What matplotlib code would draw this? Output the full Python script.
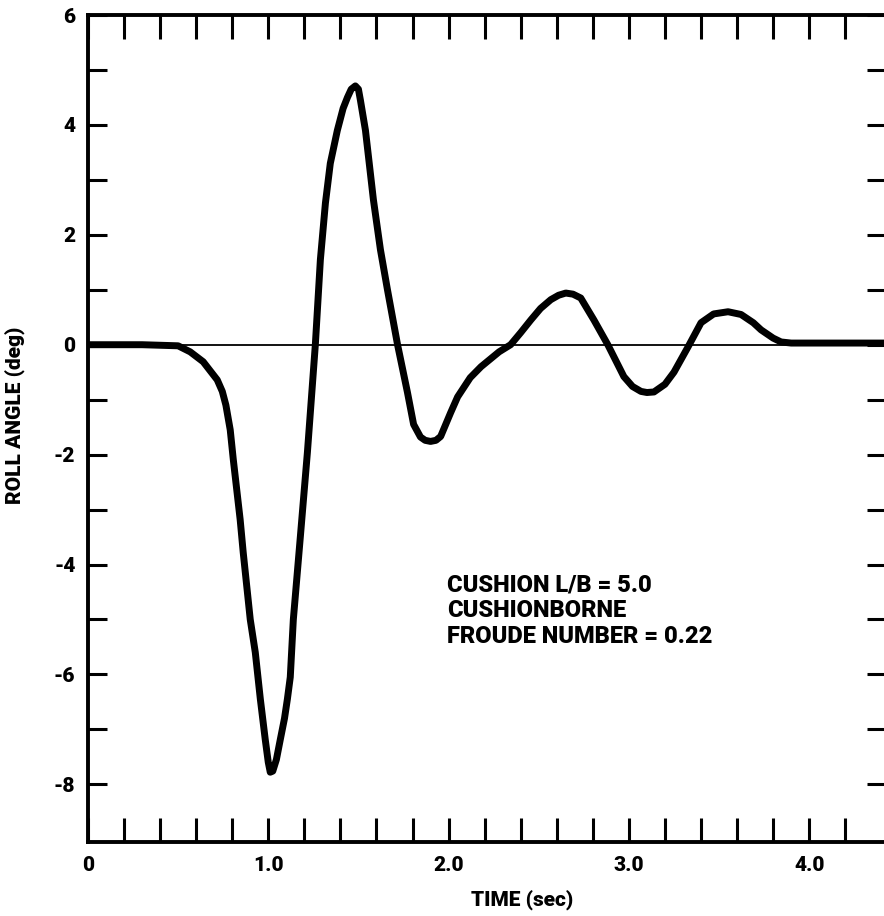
import matplotlib.pyplot as plt
import numpy as np

# ===== Data =====
time_s = [0.0, 0.3, 0.5, 0.567, 0.639, 0.717, 0.745, 0.765, 0.789, 0.806, 0.844,
          0.861, 0.9, 0.928, 0.956, 0.983, 1.0, 1.011, 1.025, 1.045, 1.067, 1.09,
          1.106, 1.122, 1.139, 1.178, 1.217, 1.244, 1.261, 1.289, 1.317, 1.344,
          1.383, 1.415, 1.439, 1.46, 1.483, 1.50, 1.511, 1.539, 1.56, 1.583,
          1.622, 1.661, 1.717, 1.772, 1.806, 1.844, 1.87, 1.9, 1.93, 1.956, 2.011,
          2.05, 2.12, 2.18, 2.28, 2.344, 2.40, 2.456, 2.51, 2.567, 2.61, 2.65,
          2.69, 2.733, 2.806, 2.883, 2.972, 3.02, 3.067, 3.1, 3.139, 3.2, 3.25,
          3.328, 3.4, 3.47, 3.55, 3.622, 3.69, 3.733, 3.8, 3.844, 3.9, 4.44]
roll_deg = [0.0, 0.0, -0.02, -0.13, -0.31, -0.64, -0.85, -1.1, -1.55, -2.09, -3.18,
            -3.78, -5.0, -5.6, -6.45, -7.18, -7.6, -7.78, -7.76, -7.55, -7.18, -6.8,
            -6.45, -6.05, -5.0, -3.49, -1.96, -0.76, 0.0, 1.55, 2.58, 3.3,
            3.9, 4.3, 4.5, 4.65, 4.71, 4.65, 4.45, 3.9, 3.3, 2.64,
            1.73, 1.0, 0.0, -0.87, -1.45, -1.68, -1.74, -1.76, -1.74, -1.67, -1.24,
            -0.95, -0.6, -0.4, -0.13, 0.0, 0.22, 0.45, 0.66, 0.82, 0.9, 0.94,
            0.92, 0.85, 0.45, 0.0, -0.58, -0.76, -0.85, -0.87, -0.86, -0.72, -0.5,
            -0.04, 0.4, 0.56, 0.6, 0.55, 0.4, 0.27, 0.12, 0.05, 0.03, 0.03]

x_ticks = np.arange(0, 4.21, 0.2)
x_labels = {0.0: "0", 1.0: "1.0", 2.0: "2.0", 3.0: "3.0", 4.0: "4.0"}
y_ticks = np.arange(-8, 7, 1)
note = "CUSHION L/B = 5.0\nCUSHIONBORNE\nFROUDE NUMBER = 0.22"

# ===== Figure =====
plt.rcParams['font.family'] = ['Roboto', 'DejaVu Sans']
plt.rcParams['font.weight'] = 'black'
plt.rcParams['axes.unicode_minus'] = False

fig = plt.figure(figsize=(8.84, 9.16), dpi=100)
ax = fig.add_axes([0.0995, 0.0808, 0.9030, 0.9028])

ax.plot(time_s, roll_deg, color='black', lw=5.0, solid_joinstyle='round',
        solid_capstyle='round')
ax.axhline(0, color='black', lw=1.3)

ax.set_xlim(0, 4.427)
ax.set_ylim(-9.05, 6.0)

ax.set_xticks(x_ticks)
ax.set_xticklabels([x_labels.get(round(t, 1), "") for t in x_ticks],
                   fontweight='black')
ax.set_yticks(y_ticks)
ax.set_yticklabels([str(v) if v % 2 == 0 else "" for v in y_ticks],
                   fontweight='black')

ax.tick_params(axis='x', direction='in', length=17, width=2.2, top=True,
               labelsize=15, pad=10)
ax.tick_params(axis='y', direction='in', length=14, width=2.2, right=True,
               labelsize=15, pad=9)

for side in ['left', 'top', 'bottom', 'right']:
    ax.spines[side].set_linewidth(2.8)

ax.set_xlabel("TIME (sec)", fontsize=15, fontweight='black')
ax.set_ylabel("ROLL ANGLE (deg)", fontsize=15, fontweight='black')
ax.xaxis.set_label_coords(0.544, -0.058)
ax.yaxis.set_label_coords(-0.079, 0.516)

ax.text(1.99, -4.84, note, fontsize=17, fontweight='black', ha='left',
        va='center', linespacing=1.15)

fig.savefig('out.png', dpi=100)
